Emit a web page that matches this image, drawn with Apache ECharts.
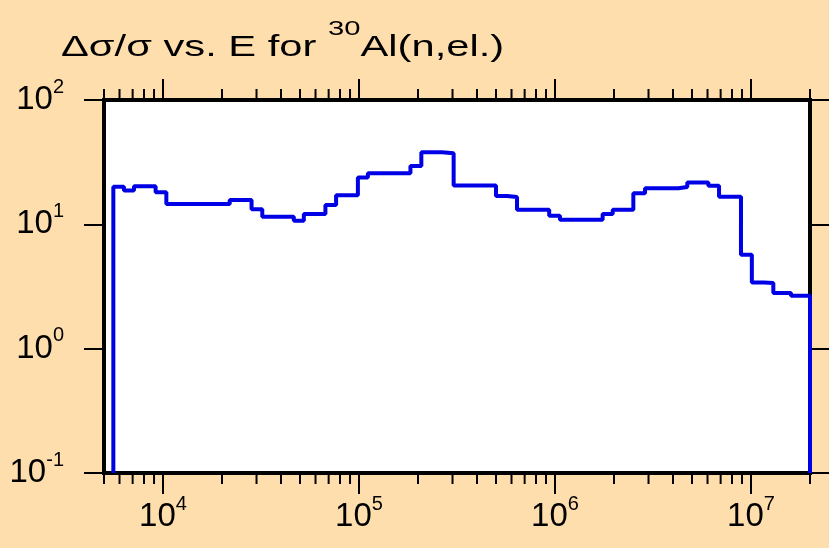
<!DOCTYPE html>
<html>
<head>
<meta charset="utf-8">
<script src="https://cdn.jsdelivr.net/npm/echarts@6/dist/echarts.min.js"></script>
<style>
html,body{margin:0;padding:0;background:#ffdead;}
#c{width:829px;height:548px;}
</style>
</head>
<body>
<div id="c"></div>
<script>
// Bin edges (energy, eV) and relative uncertainty values per bin (%)
const edges = [5.58e3, 6.32e3, 7.11e3, 9.17e3, 1.04e4, 2.19e4, 2.83e4, 3.21e4, 4.65e4, 5.23e4,
  6.74e4, 7.64e4, 9.87e4, 1.11e5, 1.83e5, 2.08e5, 2.65e5, 3.04e5, 5.0e5, 5.69e5,
  6.40e5, 9.34e5, 1.06e6, 1.75e6, 1.97e6, 2.51e6, 2.88e6, 4.26e6, 4.73e6, 6.06e6,
  6.87e6, 8.89e6, 1.01e7, 1.16e7, 1.30e7, 1.60e7, 2.0e7];
const values = [20.1, 18.7, 20.2, 18.1, 14.6, 15.7, 13.2, 11.5, 10.7, 12.1,
  14.3, 17.1, 23.8, 25.8, 29.5, 38.0, 37.3, 20.5, 16.9, 16.6,
  13.1, 11.7, 10.9, 12.1, 13.1, 17.8, 19.5, 20.0, 21.7, 20.4,
  16.7, 5.69, 3.41, 3.38, 2.80, 2.67];
const xMin = 5e3, xMax = 2e7, yMin = 0.1, yMax = 100;
const majorXTicks = [1e4, 1e5, 1e6, 1e7];
const minorXTicks = [5e3, 6e3, 7e3, 8e3, 9e3,
  2e4, 3e4, 4e4, 5e4, 6e4, 7e4, 8e4, 9e4,
  2e5, 3e5, 4e5, 5e5, 6e5, 7e5, 8e5, 9e5,
  2e6, 3e6, 4e6, 5e6, 6e6, 7e6, 8e6, 9e6, 2e7];
const titleMain1 = 'Δσ/σ vs. E for ';
const titleSup = '30';
const titleMain2 = 'Al(n,el.)';

const pts = [[edges[0], yMin]];
for (let i = 0; i < values.length; i++) {
  pts.push([edges[i], values[i]]);
  pts.push([edges[i + 1], values[i]]);
}
pts.push([edges[edges.length - 1], yMin]);

function expLabel(v) {
  const e = Math.log10(v);
  const r = Math.round(e);
  if (Math.abs(e - r) > 1e-6) return '';
  return '{b|10}{s|' + r + '}';
}
const FF = 'Liberation Sans, Arial, sans-serif';
const richLab = {
  b: {fontSize: 33, fontFamily: FF, fontWeight: 'normal', color: '#000', lineHeight: 46, verticalAlign: 'middle'},
  s: {fontSize: 20, fontFamily: FF, fontWeight: 'normal', color: '#000', lineHeight: 46, verticalAlign: 'top'}
};

function tickSeries(data, len) {
  return {
    type: 'custom',
    xAxisIndex: 0, yAxisIndex: 0,
    clip: false,
    silent: true,
    z: 1,
    data: data.map(v => [v]),
    renderItem: function (params, api) {
      const x = api.coord([api.value(0), yMin])[0];
      const cs = params.coordSys;
      const yb = cs.y + cs.height, yt = cs.y;
      return {
        type: 'group',
        children: [
          {type: 'line', shape: {x1: x, y1: yb, x2: x, y2: yb + len}, style: {stroke: '#000', lineWidth: 2}},
          {type: 'line', shape: {x1: x, y1: yt, x2: x, y2: yt - len}, style: {stroke: '#000', lineWidth: 2}}
        ]
      };
    }
  };
}

const chart = echarts.init(document.getElementById('c'));
chart.setOption({
  animation: false,
  backgroundColor: '#ffdead',
  graphic: [{
    type: 'text',
    x: 61, y: 19,
    scaleX: 1.39, scaleY: 1,
    style: {
      text: '{a|' + titleMain1 + '}{s|' + titleSup + '}{a|' + titleMain2 + '}',
      fill: '#000',
      font: 'normal 30px ' + FF,
      rich: {
        a: {fontSize: 30, fontFamily: FF, fontWeight: 'normal', fill: '#000', lineHeight: 57, verticalAlign: 'middle'},
        s: {fontSize: 21, fontFamily: FF, fontWeight: 'normal', fill: '#000', lineHeight: 57, verticalAlign: 'top'}
      }
    }
  }],
  grid: {left: 104, right: 19, top: 100, bottom: 75, show: true, backgroundColor: '#fff', borderColor: '#000', borderWidth: 4},
  xAxis: [{
    type: 'log', logBase: 10, min: xMin, max: xMax, position: 'bottom',
    axisLine: {show: false}, axisTick: {show: false}, splitLine: {show: false},
    axisLabel: {margin: 21, showMinLabel: false, showMaxLabel: false, formatter: expLabel, rich: richLab}
  }],
  yAxis: [{
    type: 'log', logBase: 10, min: yMin, max: yMax, position: 'left',
    axisLine: {show: false}, splitLine: {show: false},
    axisTick: {show: true, length: 20, lineStyle: {color: '#000', width: 2}},
    axisLabel: {margin: 40, formatter: expLabel, rich: richLab}
  }, {
    type: 'log', logBase: 10, min: yMin, max: yMax, position: 'right',
    axisLine: {show: false}, splitLine: {show: false},
    axisTick: {show: true, length: 20, lineStyle: {color: '#000', width: 2}},
    axisLabel: {show: false}
  }],
  series: [
    tickSeries(majorXTicks, 21),
    tickSeries(minorXTicks, 11),
    {
      type: 'line', xAxisIndex: 0, yAxisIndex: 0,
      data: pts, showSymbol: false, symbol: 'none',
      lineStyle: {color: '#0000e6', width: 4},
      z: 3
    }
  ]
});
</script>
</body>
</html>
